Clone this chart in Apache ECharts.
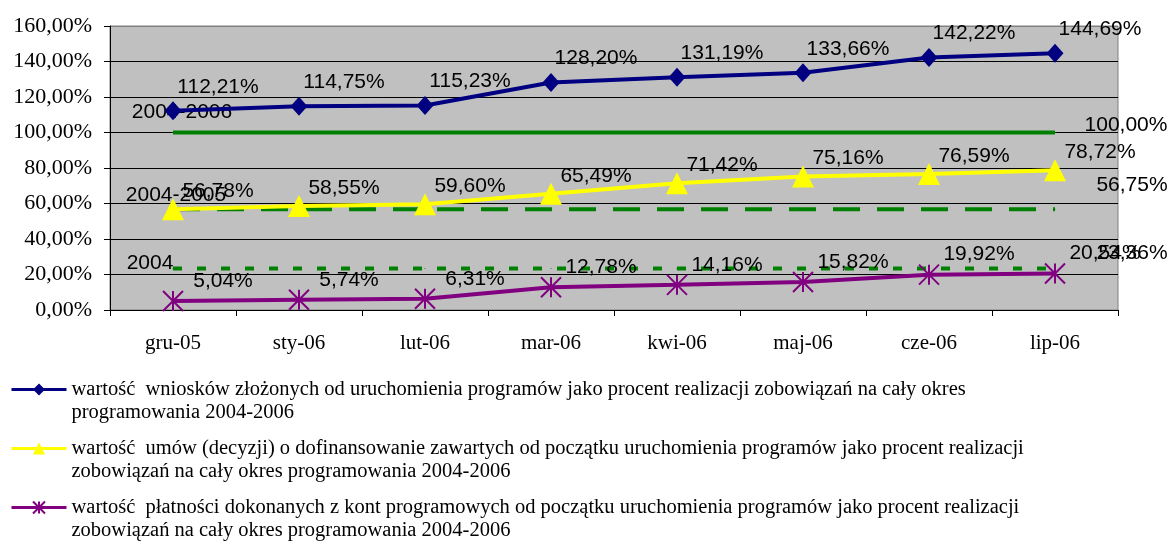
<!DOCTYPE html>
<html><head><meta charset="utf-8">
<script src="https://cdn.jsdelivr.net/npm/echarts@6/dist/echarts.min.js"></script>
<style>html,body{margin:0;padding:0;background:#fff}#c{width:1174px;height:545px}</style>
</head><body><div id="c"></div>
<script>
const categories = ['gru-05','sty-06','lut-06','mar-06','kwi-06','maj-06','cze-06','lip-06'];
const wnioski = [112.21,114.75,115.23,128.20,131.19,133.66,142.22,144.69];
const umowy = [56.78,58.55,59.60,65.49,71.42,75.16,76.59,78.72];
const platnosci = [5.04,5.74,6.31,12.78,14.16,15.82,19.92,20.54];
const ref20042006 = [100,100,100,100,100,100,100,100];
const ref20042005 = [56.75,56.75,56.75,56.75,56.75,56.75,56.75,56.75];
const ref2004 = [23.36,23.36,23.36,23.36,23.36,23.36,23.36,23.36];
const refNames = ['2004-2006','2004-2005','2004'];
const yMin = 0, yMax = 160, yInterval = 20;
const seriesNames = [
  'wartość  wniosków złożonych od uruchomienia programów jako procent realizacji zobowiązań na cały okres programowania 2004-2006',
  'wartość  umów (decyzji) o dofinansowanie zawartych od początku uruchomienia programów jako procent realizacji zobowiązań na cały okres programowania 2004-2006',
  'wartość  płatności dokonanych z kont programowych od początku uruchomienia programów jako procent realizacji zobowiązań na cały okres programowania 2004-2006'
];
const legendSecondLines = [
  'programowania 2004-2006',
  'zobowiązań na cały okres programowania 2004-2006',
  'zobowiązań na cały okres programowania 2004-2006'
];

const fmt = v => Number(v).toFixed(2).replace('.', ',') + '%';
const labelFont = { fontFamily: 'Liberation Sans', fontSize: 21, color: '#000' };

function mainSeries(name, data, color, symbol, symbolSize, offset, extraItem) {
  return {
    name, type: 'line', data, symbol, symbolSize,
    lineStyle: { color, width: 4 },
    itemStyle: Object.assign({ color }, extraItem || {}),
    label: Object.assign({ show: true, position: 'inside', offset, formatter: p => fmt(p.value) }, labelFont),
    emphasis: { disabled: true },
    z: 3
  };
}
function refSeries(arr, startLabel, startOff, endOff, type) {
  const data = arr.map((v, i) => {
    if (i === 0) return { value: v, label: { show: true, formatter: startLabel, offset: startOff } };
    if (i === arr.length - 1) return { value: v, label: { show: true, formatter: fmt(v), offset: endOff } };
    return v;
  });
  return {
    name: startLabel, type: 'line', data, symbol: 'circle', symbolSize: 1,
    lineStyle: { color: '#008000', width: 4, type },
    itemStyle: { color: '#008000' },
    label: Object.assign({ show: false, position: 'inside' }, labelFont),
    emphasis: { disabled: true },
    z: 2
  };
}

const chart = echarts.init(document.getElementById('c'));
const splitColors = [];
for (let v = yMin; v <= yMax; v += yInterval) splitColors.push(v === yMax ? '#808080' : '#000');

chart.setOption({
  animation: false,
  backgroundColor: '#fff',
  grid: { left: 110, right: 56, top: 26, bottom: 235, show: true, backgroundColor: '#C0C0C0', borderColor: '#808080', borderWidth: 1 },
  xAxis: {
    type: 'category', data: categories, boundaryGap: true,
    axisLine: { show: true, lineStyle: { color: '#000', width: 1 } },
    axisTick: { show: true, length: 6, interval: 0, lineStyle: { color: '#000' } },
    axisLabel: { margin: 23, fontFamily: 'Liberation Serif', fontSize: 21, color: '#000', interval: 0 },
    splitLine: { show: false }
  },
  yAxis: {
    type: 'value', min: yMin, max: yMax, interval: yInterval,
    axisLine: { show: true, lineStyle: { color: '#000', width: 1 } },
    axisTick: { show: true, length: 6, lineStyle: { color: '#000' } },
    axisLabel: { margin: 18, formatter: v => fmt(v), fontFamily: 'Liberation Serif', fontSize: 22, color: '#000' },
    splitLine: { show: true, lineStyle: { color: splitColors, width: 1 } }
  },
  legend: {
    data: seriesNames, orient: 'vertical', left: 5, top: 350, height: 400,
    itemWidth: 55, itemHeight: 15, itemGap: -10,
    lineStyle: { width: 3 },
    formatter: name => {
      const i = seriesNames.indexOf(name);
      const tail = legendSecondLines[i];
      return '\n' + name.slice(0, name.length - tail.length).trimEnd() + '\n' + tail;
    },
    textStyle: { fontFamily: 'Liberation Serif', fontSize: 20.5, color: '#000', lineHeight: 23 },
    selectedMode: false
  },
  series: [
    refSeries(ref20042006, refNames[0], [9, -20], [71, -7], 'solid'),
    refSeries(ref20042005, refNames[1], [3, -14], [77, -24], [27, 17]),
    refSeries(ref2004, refNames[2], [-23, -5], [77, -15], [9, 15]),
    mainSeries(seriesNames[0], wnioski, '#000080', 'diamond', [17, 19], [45, -24]),
    mainSeries(seriesNames[1], umowy, '#FFFF00', 'triangle', 22, [45, -18]),
    mainSeries(seriesNames[2], platnosci, '#800080', 'path://M0 0L20 20M20 0L0 20M10 0L10 20', 20, [50, -20], { borderColor: '#800080', borderWidth: 2 })
  ]
});
</script></body></html>
